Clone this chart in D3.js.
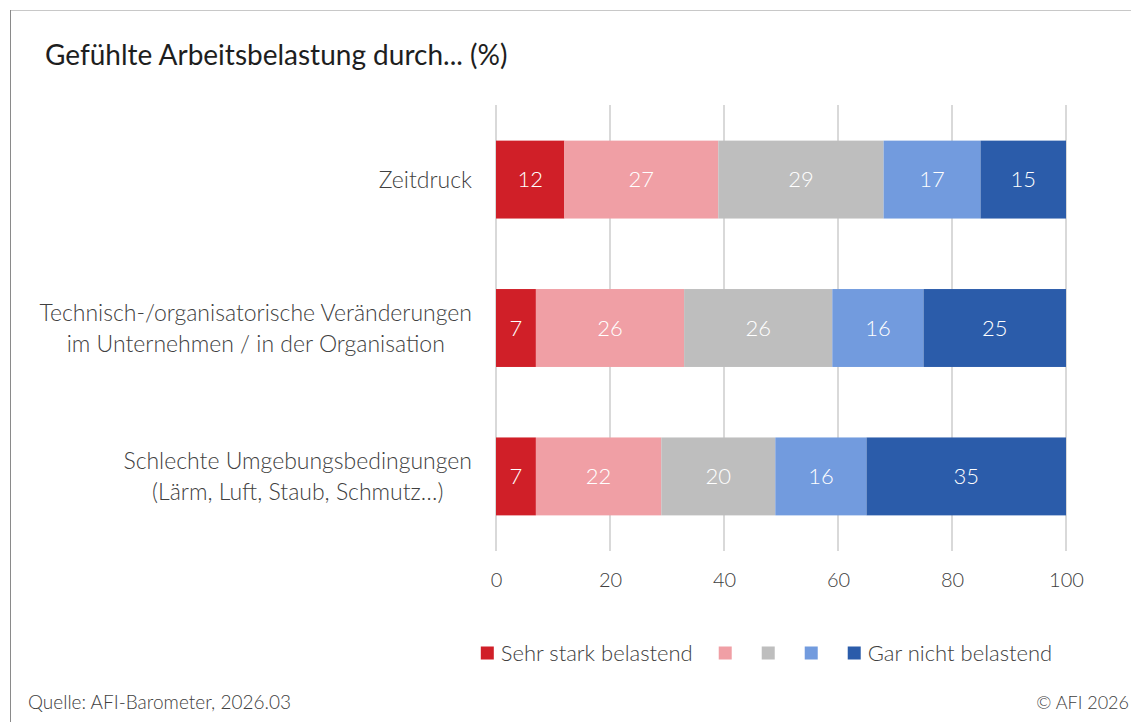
<!DOCTYPE html>
<html>
<head>
<meta charset="utf-8">
<script src="https://cdn.jsdelivr.net/npm/d3@7"></script>
<style>
  html, body { margin: 0; padding: 0; background: #fff; }
  svg { display: block; font-family: Lato, "Noto Sans", sans-serif; font-weight: 300; }
</style>
</head>
<body>
<div id="chart"></div>
<script>
// data
const categories = [
    "Zeitdruck",
    "Technisch-/organisatorische Veränderungen\nim Unternehmen / in der Organisation",
    "Schlechte Umgebungsbedingungen\n(Lärm, Luft, Staub, Schmutz…)"
];
const seriesNames = ["Sehr stark belastend", "", "", "", "Gar nicht belastend"];
const sehrStark = [12, 7, 7];
const stufe2 = [27, 26, 22];
const stufe3 = [29, 26, 20];
const stufe4 = [17, 16, 16];
const garNicht = [15, 25, 35];
const tickValues = [0, 20, 40, 60, 80, 100];
const colors = ["#D01F28", "#F09FA5", "#BEBEBE", "#729BDE", "#2B5CAA"];

const width = 1131, height = 722;
const margin = {top: 105, right: 65, bottom: 171, left: 496};

const svg = d3.select("#chart").append("svg")
    .attr("width", width)
    .attr("height", height);

// frame
svg.append("line").attr("x1", 10).attr("x2", width).attr("y1", 10.5).attr("y2", 10.5)
    .attr("stroke", "#c8c8c8").attr("stroke-width", 1);
svg.append("line").attr("x1", 10.5).attr("x2", 10.5).attr("y1", 10).attr("y2", height)
    .attr("stroke", "#8a8a8a").attr("stroke-width", 1);

svg.append("text")
    .attr("x", 45).attr("y", 65)
    .attr("font-size", 28)
    .attr("font-weight", 400)
    .attr("fill", "#1e1e1e")
    .text("Gefühlte Arbeitsbelastung durch... (%)");

const x = d3.scaleLinear().domain([0, 100]).range([margin.left, width - margin.right]);
const y = d3.scaleBand().domain(categories)
    .range([margin.top, height - margin.bottom])
    .paddingInner(0.475).paddingOuter(0.24);

// grid
svg.append("g").selectAll("line")
    .data(tickValues)
    .join("line")
    .attr("x1", d => x(d)).attr("x2", d => x(d))
    .attr("y1", margin.top).attr("y2", height - margin.bottom)
    .attr("stroke", "#d9d9d9").attr("stroke-width", 2);

// x axis
const xAxis = svg.append("g")
    .attr("transform", `translate(0, ${height - margin.bottom})`)
    .call(d3.axisBottom(x).tickValues(tickValues).tickSize(0).tickPadding(22));
xAxis.select(".domain").remove();
xAxis.selectAll("text").attr("font-size", 20).attr("fill", "#404040")
    .attr("font-family", "Lato, 'Noto Sans', sans-serif").attr("font-weight", 300);

// stack
const rows = categories.map((c, i) => ({
    cat: c, s0: sehrStark[i], s1: stufe2[i], s2: stufe3[i], s3: stufe4[i], s4: garNicht[i]
}));
const keys = ["s0", "s1", "s2", "s3", "s4"];
const stacked = d3.stack().keys(keys)(rows);

const layers = svg.append("g").selectAll("g")
    .data(stacked)
    .join("g")
    .attr("fill", (d, i) => colors[i]);

layers.selectAll("rect")
    .data(d => d)
    .join("rect")
    .attr("x", d => x(d[0]))
    .attr("y", d => y(d.data.cat))
    .attr("width", d => x(d[1]) - x(d[0]))
    .attr("height", y.bandwidth());

layers.selectAll("text")
    .data(d => d)
    .join("text")
    .attr("x", d => (x(d[0]) + x(d[1])) / 2)
    .attr("y", d => y(d.data.cat) + y.bandwidth() / 2)
    .attr("dy", "0.35em")
    .attr("text-anchor", "middle")
    .attr("font-size", 22)
    .attr("fill", "#fff")
    .text(d => d[1] - d[0]);

// category labels
const lineH = 31;
categories.forEach(c => {
    const lines = c.split("\n");
    const g = svg.append("g");
    const t = g.append("text")
        .attr("font-size", 23)
        .attr("fill", "#404040")
        .attr("text-anchor", "middle");
    const cy = y(c) + y.bandwidth() / 2;
    lines.forEach((l, j) => {
        t.append("tspan")
            .attr("x", 0)
            .attr("y", cy + (j - (lines.length - 1) / 2) * lineH)
            .attr("dy", "0.35em")
            .text(l);
    });
    const w = d3.max(t.selectAll("tspan").nodes(), n => n.getComputedTextLength());
    g.attr("transform", `translate(${margin.left - 24 - w / 2}, 0)`);
});

// legend
const legend = svg.append("g");
let lx = 0;
seriesNames.forEach((name, i) => {
    const item = legend.append("g").attr("transform", `translate(${lx}, 0)`);
    item.append("rect").attr("x", 0).attr("y", -6.5).attr("width", 13).attr("height", 13)
        .attr("fill", colors[i]);
    let w = 13;
    if (name) {
        const t = item.append("text").attr("x", 20).attr("dy", "0.35em")
            .attr("font-size", 22).attr("fill", "#404040").text(name);
        w = 20 + t.node().getComputedTextLength();
        lx += w + 26;
    } else {
        lx += w + 30;
    }
});
const legendW = lx - 26;
legend.attr("transform", `translate(${766.5 - legendW / 2}, 653)`);

// footer
svg.append("text").attr("x", 28).attr("y", 709)
    .attr("font-size", 19).attr("fill", "#404040")
    .text("Quelle: AFI-Barometer, 2026.03");
svg.append("text").attr("x", 1129).attr("y", 709)
    .attr("text-anchor", "end")
    .attr("font-size", 18).attr("fill", "#404040")
    .text("© AFI 2026");
</script>
</body>
</html>
